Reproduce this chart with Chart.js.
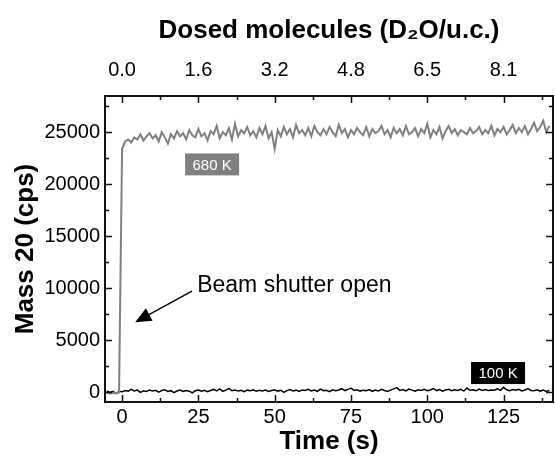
<!DOCTYPE html>
<html>
<head>
<meta charset="utf-8">
<script src="https://cdn.jsdelivr.net/npm/chart.js@4.4.1/dist/chart.umd.min.js"></script>
<style>
  html, body { margin: 0; padding: 0; background: #fff; }
  #wrap { width: 555px; height: 456px; position: relative; }
</style>
</head>
<body>
<div id="wrap"><canvas id="massChart"></canvas></div>
<script>
// time axis (s)
const times = [
  -5, -4, -3, -2, -1,
  0, 1, 2, 3, 4, 5, 6, 7, 8, 9,
  10, 11, 12, 13, 14, 15, 16, 17, 18, 19,
  20, 21, 22, 23, 24, 25, 26, 27, 28, 29,
  30, 31, 32, 33, 34, 35, 36, 37, 38, 39,
  40, 41, 42, 43, 44, 45, 46, 47, 48, 49,
  50, 51, 52, 53, 54, 55, 56, 57, 58, 59,
  60, 61, 62, 63, 64, 65, 66, 67, 68, 69,
  70, 71, 72, 73, 74, 75, 76, 77, 78, 79,
  80, 81, 82, 83, 84, 85, 86, 87, 88, 89,
  90, 91, 92, 93, 94, 95, 96, 97, 98, 99,
  100, 101, 102, 103, 104, 105, 106, 107, 108, 109,
  110, 111, 112, 113, 114, 115, 116, 117, 118, 119,
  120, 121, 122, 123, 124, 125, 126, 127, 128, 129,
  130, 131, 132, 133, 134, 135, 136, 137, 138, 139,
  140
];

// mass 20 signal at 680 K (cps)
const signal680K = [
  -60, -150, -80, -120, -40,
  23400, 24100, 24300, 24000, 24500, 24300, 24800, 24200, 24600, 24900,
  24400, 24700, 24100, 25000, 24500, 23900, 24800, 24400, 25100, 24600,
  24900, 24300, 25200, 24700, 24500, 25300, 24600, 24900, 24200, 25100,
  24800, 25600, 24400, 25000, 24700, 25400, 24300, 25800, 24600, 25200,
  24900, 25500, 24700, 25100, 24500, 25400, 24800, 25600, 24400, 25000,
  23400, 25200, 24600, 25500, 24800, 25300, 24500, 25700, 24900, 25200,
  24700, 25400, 24600, 25600, 25000, 24700, 25300, 24800, 25500, 25000,
  24600, 25700, 24900, 25300, 24500, 25200, 24800, 25400, 25000, 24700,
  25500, 24600, 25300, 24900, 25100, 25600, 24800, 25200, 24500, 25400,
  24900, 25300, 24700, 25600, 24800, 25000, 25400, 24600, 25300, 24900,
  25800, 24500, 25200, 24800, 25500, 24400, 25100, 25600, 24900, 25300,
  24700, 25200, 25000, 24800, 25400, 24900, 25100, 25500, 24800, 25200,
  24900, 25600, 24700, 25300, 25000, 25500, 24800, 25200, 25700, 24900,
  25400, 25000, 25600, 24800, 25300, 25900, 25100, 25500, 26100, 25000,
  25600
];

// mass 20 signal at 100 K (cps)
const signal100K = [
  100, -50, 60, -150, 80,
  20, 150, 80, 250, 100, 180, -30, 120, 60, 200,
  90, 170, -20, 140, 210, 60, 130, -60, 100, 190,
  50, 150, 80, -80, 120, 200, 70, 160, 30, 140,
  250, 100, 300, 60, 180, 350, 120, 200, 90, 160,
  40, 180, 120, 220, 70, 160, 100, 190, 50, 140,
  210, 90, 170, -30, 130, 240, 110, 180, 60, 200,
  150, 260, 100, 190, 70, 280, 130, 170, 40, 210,
  120, 190, 320, 140, 260, 380, 150, 220, 90, 180,
  130, 240, 70, 190, 110, 260, 140, 50, 180, 300,
  420, 160, 230, 110, 290, 180, 90, 210, 150, 260,
  120, 200, 340, 140, 230, 80, 190, 270, 130, 210,
  150, 260, 90, 380, 170, 220, 120, 290, 160, 230,
  140, 200, 180, 310, 160, 450, 210, 130, 240, 170,
  260, 110, 200, 330, 150, 120, 220, 90, 190, 60,
  150
];

// tick positions and labels
const xTicks = [0, 25, 50, 75, 100, 125];
const yTicks = [0, 5000, 10000, 15000, 20000, 25000];
const doseLabels = ['0.0', '1.6', '3.2', '4.8', '6.5', '8.1'];
const xMinorTicks = [12.5, 37.5, 62.5, 87.5, 112.5, 137.5];
const yMinorTicks = [2500, 7500, 12500, 17500, 22500, 27500];

const FONT = "'Liberation Sans', Arial, sans-serif";

const pts = (ys) => times.map((t, i) => ({x: t, y: ys[i]}));

// inward tick marks on all four sides
const inwardTicks = {
  id: 'inwardTicks',
  afterDraw(chart) {
    const {ctx, chartArea: a, scales: {x, y}} = chart;
    ctx.save();
    ctx.strokeStyle = '#111';
    ctx.lineWidth = 1.5;
    ctx.beginPath();
    const vx = (v, len) => {
      const px = Math.round(x.getPixelForValue(v)) + 0.5;
      ctx.moveTo(px, a.bottom); ctx.lineTo(px, a.bottom - len);
      ctx.moveTo(px, a.top); ctx.lineTo(px, a.top + len);
    };
    const hy = (v, len) => {
      const py = Math.round(y.getPixelForValue(v)) + 0.5;
      ctx.moveTo(a.left, py); ctx.lineTo(a.left + len, py);
      ctx.moveTo(a.right, py); ctx.lineTo(a.right - len, py);
    };
    xTicks.forEach(v => vx(v, 7));
    xMinorTicks.forEach(v => vx(v, 4));
    yTicks.forEach(v => hy(v, 7));
    yMinorTicks.forEach(v => hy(v, 4));
    ctx.stroke();
    ctx.restore();
  }
};

// sample labels and the beam shutter note
const annotations = {
  id: 'annotations',
  afterDatasetsDraw(chart) {
    const {ctx, scales: {x, y}} = chart;
    ctx.save();
    const tag = (text, t, v, bg) => {
      const cx = x.getPixelForValue(t), cy = y.getPixelForValue(v);
      ctx.fillStyle = bg;
      ctx.fillRect(cx - 27, cy - 11, 54, 22);
      ctx.fillStyle = '#fff';
      ctx.font = '15px ' + FONT;
      ctx.textAlign = 'center';
      ctx.textBaseline = 'middle';
      ctx.fillText(text, cx, cy + 1);
    };
    tag('680 K', 29.5, 21900, '#808080');
    tag('100 K', 123.2, 1825, '#000');

    ctx.fillStyle = '#000';
    ctx.font = '23px ' + FONT;
    ctx.textAlign = 'left';
    ctx.textBaseline = 'alphabetic';
    ctx.fillText('Beam shutter open', x.getPixelForValue(24.6), y.getPixelForValue(9600));

    const x0 = x.getPixelForValue(22.9), y0 = y.getPixelForValue(9700);
    const x1 = x.getPixelForValue(4.3), y1 = y.getPixelForValue(6720);
    const ang = Math.atan2(y1 - y0, x1 - x0);
    ctx.strokeStyle = '#000';
    ctx.lineWidth = 1.5;
    ctx.beginPath();
    ctx.moveTo(x0, y0);
    ctx.lineTo(x1 - 12 * Math.cos(ang), y1 - 12 * Math.sin(ang));
    ctx.stroke();
    ctx.beginPath();
    ctx.moveTo(x1, y1);
    ctx.lineTo(x1 - 16 * Math.cos(ang) + 7 * Math.sin(ang), y1 - 16 * Math.sin(ang) - 7 * Math.cos(ang));
    ctx.lineTo(x1 - 16 * Math.cos(ang) - 7 * Math.sin(ang), y1 - 16 * Math.sin(ang) + 7 * Math.cos(ang));
    ctx.closePath();
    ctx.fill();
    ctx.restore();
  }
};

const border = {display: true, color: '#111', width: 2};
const noGrid = {display: false, drawTicks: false};
const tickFont = {family: FONT, size: 20};
const titleFont = {family: FONT, size: 26, weight: 'bold', lineHeight: 1};

new Chart(document.getElementById('massChart'), {
  type: 'line',
  data: {
    datasets: [
      {label: '680 K', data: pts(signal680K), borderColor: '#808080', borderWidth: 2},
      {label: '100 K', data: pts(signal100K), borderColor: '#000', borderWidth: 1.5}
    ]
  },
  options: {
    responsive: true,
    maintainAspectRatio: false,
    animation: false,
    layout: {padding: 0},
    elements: {point: {radius: 0}, line: {tension: 0}},
    plugins: {legend: {display: false}, tooltip: {enabled: false}},
    scales: {
      x: {
        type: 'linear', position: 'bottom', min: -5.6, max: 141.2,
        grid: noGrid, border: border,
        afterBuildTicks: (s) => { s.ticks = xTicks.map(v => ({value: v})); },
        ticks: {autoSkip: false, padding: 3, maxRotation: 0, color: '#000', font: tickFont,
          callback: (v) => String(v)},
        title: {display: true, text: 'Time (s)', color: '#000', font: titleFont,
          padding: {top: 0, bottom: 1}},
        afterFit: (s) => { s.height = 54; }
      },
      x2: {
        type: 'linear', position: 'top', min: -5.6, max: 141.2,
        grid: noGrid, border: border,
        afterBuildTicks: (s) => { s.ticks = xTicks.map(v => ({value: v})); },
        ticks: {autoSkip: false, padding: 14, maxRotation: 0, color: '#000', font: tickFont,
          callback: (v) => doseLabels[xTicks.indexOf(v)]},
        title: {display: true, text: 'Dosed molecules (D\u2082O/u.c.)', color: '#000', font: titleFont,
          padding: {top: 18, bottom: 0}},
        afterFit: (s) => { s.height = 96; }
      },
      y: {
        type: 'linear', position: 'left', min: -960, max: 28480,
        grid: noGrid, border: border,
        afterBuildTicks: (s) => { s.ticks = yTicks.map(v => ({value: v})); },
        ticks: {autoSkip: false, padding: 5, color: '#000', font: tickFont,
          callback: (v) => String(v)},
        title: {display: true, text: 'Mass 20 (cps)', color: '#000', font: titleFont,
          padding: {top: 13, bottom: 0}},
        afterFit: (s) => { s.width = 105; }
      },
      y2: {
        type: 'linear', position: 'right', min: -960, max: 28480,
        grid: noGrid, border: border,
        ticks: {display: false},
        afterFit: (s) => { s.width = 2; }
      }
    }
  },
  plugins: [inwardTicks, annotations]
});
</script>
</body>
</html>
